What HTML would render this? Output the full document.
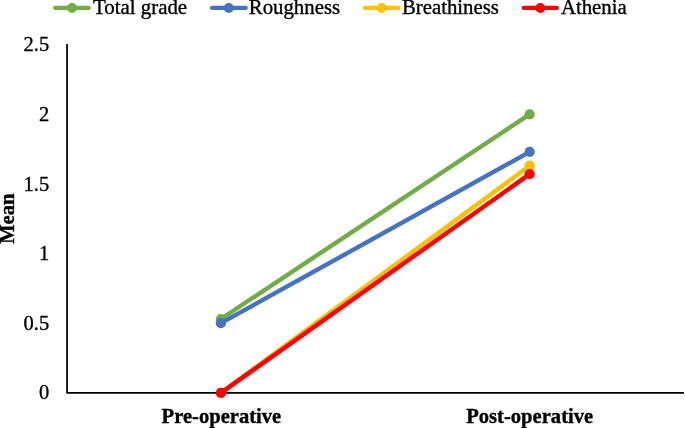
<!DOCTYPE html>
<html><head><meta charset="utf-8">
<style>
html,body{margin:0;padding:0;background:#fff;overflow:hidden;}
svg{display:block;}
text{font-family:"Liberation Serif",serif;fill:#000;stroke:#000;stroke-width:0.35px;}
</style></head>
<body>
<svg width="685" height="428" viewBox="0 0 685 428">
<rect width="685" height="428" fill="#fff"/>
<!-- axes -->
<polyline points="67.05,44 67.05,392.75 684,392.75" fill="none" stroke="#000" stroke-width="1.75" stroke-linejoin="round"/>
<!-- y labels -->
<g font-size="20.5" text-anchor="end">
<text x="49.2" y="50.8">2.5</text>
<text x="49.2" y="120.5">2</text>
<text x="49.2" y="190.65">1.5</text>
<text x="49.2" y="259.8">1</text>
<text x="49.2" y="329.5">0.5</text>
<text x="49.2" y="398.9">0</text>
</g>
<text transform="translate(13.9,218.7) rotate(-90)" font-size="20.6" font-weight="bold" text-anchor="middle">Mean</text>
<g font-size="20.6" font-weight="bold" text-anchor="middle">
<text x="221.4" y="423.45">Pre-operative</text>
<text x="529.7" y="423.45">Post-operative</text>
</g>
<!-- series -->
<g fill="#70AD47" stroke="none"><line x1="220.9" y1="319.0" x2="529.65" y2="114.3" stroke="#70AD47" stroke-width="4.4" stroke-linecap="round"/><circle cx="220.9" cy="319.0" r="5.1"/><circle cx="529.65" cy="114.3" r="5.1"/></g>
<g fill="#4472C4" stroke="none"><line x1="220.9" y1="323.2" x2="529.65" y2="151.9" stroke="#4472C4" stroke-width="4.4" stroke-linecap="round"/><circle cx="220.9" cy="323.2" r="5.1"/><circle cx="529.65" cy="151.9" r="5.1"/></g>
<g fill="#FFC000" stroke="none"><line x1="220.9" y1="392.9" x2="529.65" y2="165.7" stroke="#FFC000" stroke-width="4.4" stroke-linecap="round"/><circle cx="220.9" cy="392.9" r="5.1"/><circle cx="529.65" cy="165.7" r="5.1"/></g>
<g fill="#FF0000" stroke="none"><line x1="220.9" y1="392.9" x2="529.65" y2="174.15" stroke="#FF0000" stroke-width="4.4" stroke-linecap="round"/><circle cx="220.9" cy="392.9" r="5.1"/><circle cx="529.65" cy="174.15" r="5.1"/></g>
<!-- legend -->
<line x1="55.2" y1="7.95" x2="88.8" y2="7.95" stroke="#70AD47" stroke-width="4.3" stroke-linecap="round"/><circle cx="72.0" cy="7.95" r="4.95" fill="#70AD47"/>
<text x="92.9" y="14.1" font-size="20.9">Total grade</text>
<line x1="212.1" y1="7.95" x2="245.7" y2="7.95" stroke="#4472C4" stroke-width="4.3" stroke-linecap="round"/><circle cx="228.8" cy="7.95" r="4.95" fill="#4472C4"/>
<text x="248.8" y="14.1" font-size="20.8">Roughness</text>
<line x1="365.1" y1="7.95" x2="398.6" y2="7.95" stroke="#FFC000" stroke-width="4.3" stroke-linecap="round"/><circle cx="381.8" cy="7.95" r="4.95" fill="#FFC000"/>
<text x="401.9" y="14.3" font-size="20.8">Breathiness</text>
<line x1="523.8" y1="7.95" x2="556.8" y2="7.95" stroke="#FF0000" stroke-width="4.3" stroke-linecap="round"/><circle cx="540.3" cy="7.95" r="4.95" fill="#FF0000"/>
<text x="560.9" y="14.1" font-size="20.8">Athenia</text>
</svg>
</body></html>
